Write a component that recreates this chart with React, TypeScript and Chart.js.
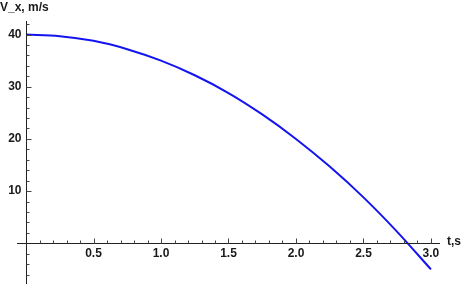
import React, { useEffect, useRef } from "react";
import { Chart, registerables } from "chart.js";

Chart.register(...registerables);

const times = [0, 0.25, 0.5, 0.75, 1.0, 1.25, 1.5, 1.75, 2.0, 2.25, 2.5, 2.75, 3.0];
const velocities = [40, 39.7, 38.8, 37.2, 35, 32.2, 28.8, 24.7, 20, 14.7, 8.8, 2.2, -5];
const xMajorTicks = [0.5, 1.0, 1.5, 2.0, 2.5, 3.0];
const xMinorTicks = [0.1, 0.2, 0.3, 0.4, 0.6, 0.7, 0.8, 0.9, 1.1, 1.2, 1.3, 1.4, 1.6, 1.7, 1.8, 1.9, 2.1, 2.2, 2.3, 2.4, 2.6, 2.7, 2.8, 2.9];
const yMajorTicks = [10, 20, 30, 40];
const yMinorTicks = [-6, -4, -2, 2, 4, 6, 8, 12, 14, 16, 18, 22, 24, 26, 28, 32, 34, 36, 38, 42];
const xTitle = "t,s";
const yTitle = "V_x, m/s";

const axesPlugin = {
  id: "mathAxes",
  afterDatasetsDraw(chart: any) {
    const ctx = chart.ctx;
    const xs = chart.scales.x;
    const ys = chart.scales.y;
    const area = chart.chartArea;
    const x0 = Math.round(xs.getPixelForValue(0)) + 0.5;
    const y0 = Math.round(ys.getPixelForValue(0)) + 0.5;
    ctx.save();
    ctx.strokeStyle = "#222";
    ctx.lineWidth = 1;
    ctx.beginPath();
    ctx.moveTo(area.left, y0);
    ctx.lineTo(area.right, y0);
    ctx.moveTo(x0, area.top);
    ctx.lineTo(x0, area.bottom);
    ctx.stroke();
    ctx.strokeStyle = "#444";
    ctx.beginPath();
    xMajorTicks.forEach((v) => {
      const p = Math.round(xs.getPixelForValue(v)) + 0.5;
      ctx.moveTo(p, y0);
      ctx.lineTo(p, y0 - 5);
    });
    xMinorTicks.forEach((v) => {
      const p = Math.round(xs.getPixelForValue(v)) + 0.5;
      ctx.moveTo(p, y0);
      ctx.lineTo(p, y0 - 3);
    });
    yMajorTicks.forEach((v) => {
      const p = Math.round(ys.getPixelForValue(v)) + 0.5;
      ctx.moveTo(x0, p);
      ctx.lineTo(x0 + 5, p);
    });
    yMinorTicks.forEach((v) => {
      const p = Math.round(ys.getPixelForValue(v)) + 0.5;
      if (p < area.top || p > area.bottom) return;
      ctx.moveTo(x0, p);
      ctx.lineTo(x0 + 3, p);
    });
    ctx.stroke();
    ctx.fillStyle = "#1a1a1a";
    ctx.font = "bold 12px 'Liberation Sans', Arial, sans-serif";
    ctx.textAlign = "center";
    ctx.textBaseline = "middle";
    xMajorTicks.forEach((v) => {
      ctx.fillText(v.toFixed(1), xs.getPixelForValue(v), y0 + 10);
    });
    ctx.textAlign = "right";
    yMajorTicks.forEach((v) => {
      ctx.fillText(String(v), x0 - 5, ys.getPixelForValue(v));
    });
    ctx.textAlign = "left";
    ctx.fillText(xTitle, area.right + 7, y0 - 2);
    ctx.fillText(yTitle, 0, 8);
    ctx.restore();
  },
};

export default function App() {
  const ref = useRef<HTMLCanvasElement | null>(null);
  useEffect(() => {
    if (!ref.current) return;
    const chart = new Chart(ref.current, {
      type: "line",
      data: {
        datasets: [
          {
            data: times.map((t, i) => ({ x: t, y: velocities[i] })),
            borderColor: "#1414f0",
            borderWidth: 2,
            pointRadius: 0,
            cubicInterpolationMode: "monotone",
            fill: false,
          },
        ],
      },
      options: {
        animation: false,
        responsive: false,
        maintainAspectRatio: false,
        layout: { padding: { left: 17, right: 22, top: 21, bottom: 0 } },
        plugins: { legend: { display: false }, tooltip: { enabled: false } },
        scales: {
          x: { type: "linear", min: -0.067, max: 3.067, display: false },
          y: { type: "linear", min: -7.8, max: 42.6, display: false },
        },
      },
      plugins: [axesPlugin],
    });
    return () => chart.destroy();
  }, []);
  return (
    <div style={{ position: "fixed", left: 0, top: 0, width: 462, height: 284, background: "#fff" }}>
      <canvas ref={ref} width={462} height={284} style={{ display: "block" }} />
    </div>
  );
}
